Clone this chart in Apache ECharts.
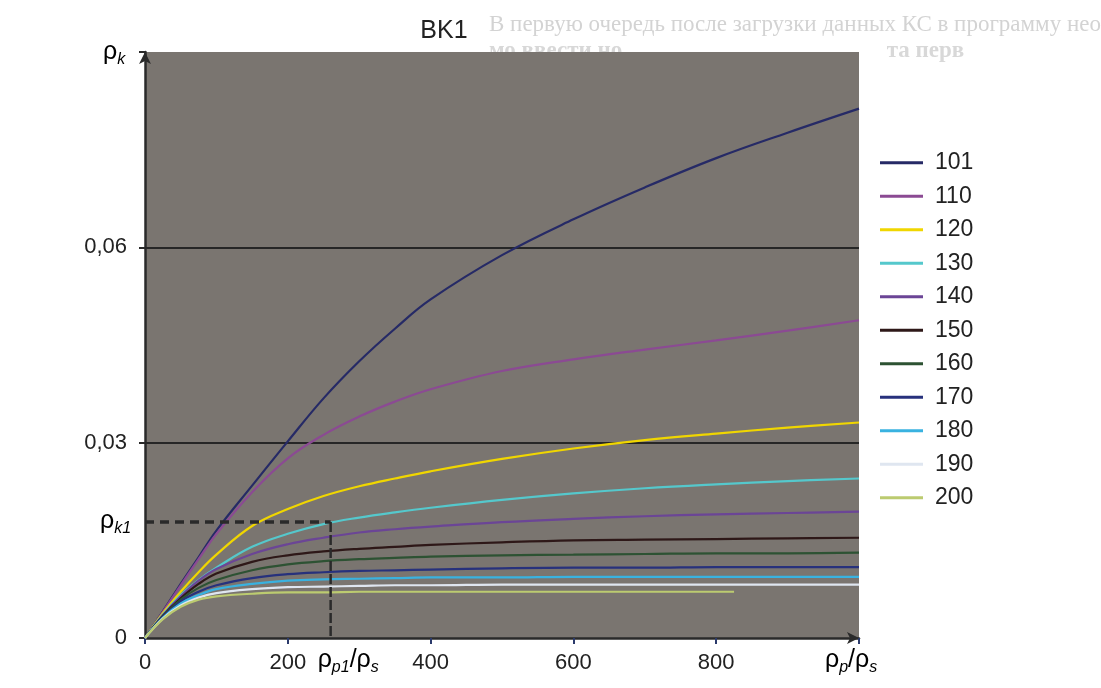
<!DOCTYPE html>
<html>
<head>
<meta charset="utf-8">
<script src="https://cdn.jsdelivr.net/npm/echarts@6/dist/echarts.min.js"></script>
<style>
  html, body { margin: 0; padding: 0; background: #fff; }
  #chart { width: 1101px; height: 688px; }
</style>
</head>
<body>
<div id="chart"></div>
<script>
// x values shared by the curves (ρp/ρs); curve 200 stops earlier
const xs = [0, 25, 50, 75, 100, 150, 200, 250, 300, 350, 400, 500, 600, 700, 800, 900, 1000];
const xs200 = [0, 25, 50, 75, 100, 150, 200, 250, 300, 350, 400, 500, 600, 700, 825];

// ρk for each curve
const s101 = [0, 0.0041, 0.0083, 0.0124, 0.0165, 0.0234, 0.0302, 0.0368, 0.0425, 0.0475, 0.0520, 0.0588, 0.0643, 0.0692, 0.0737, 0.0776, 0.0813];
const s110 = [0, 0.0040, 0.0081, 0.0121, 0.0160, 0.0224, 0.0276, 0.0312, 0.0340, 0.0363, 0.0382, 0.0410, 0.0428, 0.0443, 0.0457, 0.0472, 0.0488];
const s120 = [0, 0.0038, 0.0071, 0.0101, 0.0128, 0.0172, 0.0198, 0.0218, 0.0233, 0.0245, 0.0256, 0.0275, 0.0291, 0.0304, 0.0314, 0.0323, 0.0331];
const s130 = [0, 0.0036, 0.0066, 0.0089, 0.0108, 0.0140, 0.0160, 0.0175, 0.0185, 0.0193, 0.0200, 0.0212, 0.0222, 0.0230, 0.0236, 0.0241, 0.0245];
const s140 = [0, 0.0035, 0.0064, 0.0088, 0.0106, 0.0129, 0.0144, 0.0154, 0.0162, 0.0167, 0.0171, 0.0178, 0.0183, 0.0187, 0.0190, 0.0192, 0.0194];
const s150 = [0, 0.0034, 0.0061, 0.0083, 0.0099, 0.0117, 0.0127, 0.0133, 0.0137, 0.0140, 0.0143, 0.0147, 0.0150, 0.0151, 0.0152, 0.0153, 0.0154];
const s160 = [0, 0.0033, 0.0059, 0.0077, 0.0089, 0.0104, 0.0113, 0.0118, 0.0121, 0.0123, 0.0125, 0.0127, 0.0128, 0.0129, 0.0130, 0.0130, 0.0131];
const s170 = [0, 0.0032, 0.0056, 0.0071, 0.0081, 0.0092, 0.0098, 0.0101, 0.0103, 0.0104, 0.0105, 0.0107, 0.0108, 0.0108, 0.0109, 0.0109, 0.0109];
const s180 = [0, 0.0031, 0.0053, 0.0066, 0.0075, 0.0083, 0.0088, 0.0090, 0.0091, 0.0092, 0.0093, 0.0093, 0.0094, 0.0094, 0.0094, 0.0094, 0.0094];
const s190 = [0, 0.0030, 0.0050, 0.0062, 0.0069, 0.0075, 0.0078, 0.0079, 0.0080, 0.0081, 0.0081, 0.0082, 0.0082, 0.0082, 0.0082, 0.0082, 0.0082];
const s200 = [0, 0.0029, 0.0048, 0.0059, 0.0064, 0.0068, 0.0070, 0.0070, 0.0071, 0.0071, 0.0071, 0.0071, 0.0071, 0.0071, 0.0071];

const names = ['101', '110', '120', '130', '140', '150', '160', '170', '180', '190', '200'];
const values = [s101, s110, s120, s130, s140, s150, s160, s170, s180, s190, s200];
const xLists = [xs, xs, xs, xs, xs, xs, xs, xs, xs, xs, xs200];
const colors = ['#262a66', '#8b4a93', '#f0d600', '#55c8cc', '#6b4596', '#2e1818', '#2d5233', '#27317c', '#39b2e0', '#dfe6f0', '#bccb70'];

// axes and marks
const xMax = 1000, xStep = 200;
const yMax = 0.09, yStep = 0.03;
const gridValues = [0.03, 0.06];
const rhoP1 = 260;     // ρp1/ρs
const rhoK1 = 0.0178;  // ρk1

const font = "'Liberation Sans Narrow', 'Liberation Sans', Arial, sans-serif";
const chart = echarts.init(document.getElementById('chart'));

let series = names.map((n, i) => ({
  name: n,
  type: 'line',
  smooth: 0.4,
  symbol: 'none',
  data: xLists[i].map((x, j) => [x, values[i][j]]),
  lineStyle: { color: colors[i], width: 2.2 },
  itemStyle: { color: colors[i] },
  z: 5
}));

// grid lines at 0,03 and 0,06
series.push({
  type: 'line', data: [], silent: true,
  markLine: {
    silent: true, symbol: 'none', label: { show: false },
    lineStyle: { color: '#262626', width: 2, type: 'solid' },
    data: gridValues.map(v => ({ yAxis: v }))
  },
  z: 3
});
// dashed ρk1 / ρp1 guide lines
series.push({
  type: 'line', symbol: 'none', silent: true,
  data: [[0, rhoK1], [rhoP1, rhoK1]],
  lineStyle: { color: '#2a2a2a', width: 3.5, type: [9, 6] },
  z: 6
});
series.push({
  type: 'line', symbol: 'none', silent: true,
  data: [[rhoP1, rhoK1], [rhoP1, 0]],
  lineStyle: { color: '#2a2a2a', width: 2.5, type: [10, 3] },
  z: 6
});

const option = {
  animation: false,
  title: {
    text: 'BK1', left: 439, top: 14, textAlign: 'center',
    textStyle: { fontFamily: font, fontSize: 25, fontWeight: 'normal', color: '#222' }
  },
  grid: {
    left: 145, right: 242, top: 52, bottom: 50,
    show: true, backgroundColor: '#7a7570', borderWidth: 0
  },
  legend: {
    data: names, orient: 'vertical', left: 875, top: 145,
    itemWidth: 43, itemHeight: 3, itemGap: 8,
    icon: 'rect',
    textStyle: { fontFamily: font, fontSize: 23, color: '#222', lineHeight: 25.5, padding: [0, 0, 0, 7] }
  },
  xAxis: {
    type: 'value', min: 0, max: xMax, interval: xStep,
    axisLine: { show: true, symbol: ['none', 'arrow'], symbolSize: [9, 12], lineStyle: { color: '#2a2a2a', width: 2.5 } },
    axisTick: { show: true, length: 6, lineStyle: { color: '#2b3a6b', width: 2 } },
    splitLine: { show: false },
    axisLabel: {
      margin: 14, fontFamily: font, fontSize: 22, color: '#222',
      formatter: v => (v >= xMax ? '' : String(v))
    }
  },
  yAxis: {
    type: 'value', min: 0, max: yMax, interval: yStep,
    axisLine: { show: true, symbol: ['none', 'arrow'], symbolSize: [9, 12], lineStyle: { color: '#2a2a2a', width: 2.5 } },
    axisTick: { show: true, length: 6, lineStyle: { color: '#2a2a2a', width: 2 } },
    splitLine: { show: false },
    axisLabel: {
      margin: 18, fontFamily: font, fontSize: 22, color: '#222',
      formatter: v => (v >= yMax - 1e-9 ? '' : (v === 0 ? '0' : v.toFixed(2).replace('.', ',')))
    }
  },
  series: series
};
chart.setOption(option);

// axis names and ρk1 / ρp1 labels, placed through the axes
const rich = {
  r: { fontFamily: font, fontSize: 25, color: '#222', lineHeight: 30, verticalAlign: 'middle' },
  s: { fontFamily: font, fontSize: 16, fontStyle: 'italic', color: '#222', lineHeight: 8, verticalAlign: 'bottom' }
};
const pK1 = chart.convertToPixel({ gridIndex: 0 }, [0, rhoK1]);
const pP1 = chart.convertToPixel({ gridIndex: 0 }, [rhoP1, 0]);
const pTop = chart.convertToPixel({ gridIndex: 0 }, [0, yMax]);
const pEnd = chart.convertToPixel({ gridIndex: 0 }, [xMax, 0]);

chart.setOption({
  graphic: [
    { type: 'text', left: pTop[0] - 42, top: pTop[1] - 12, style: { text: '{r|ρ}{s|k}', rich: rich } },
    { type: 'text', left: pK1[0] - 45, top: pK1[1] - 13, style: { text: '{r|ρ}{s|k1}', rich: rich } },
    { type: 'text', left: pP1[0] - 13, top: pP1[1] + 10, style: { text: '{r|ρ}{s|p1}{r|/ρ}{s|s}', rich: rich } },
    { type: 'text', left: pEnd[0] - 34, top: pEnd[1] + 10, style: { text: '{r|ρ}{s|p}{r|/ρ}{s|s}', rich: rich } },
    // faint text showing through from the printed page
    { type: 'text', left: 489, top: 13, z: -10, style: { text: 'В первую очередь после загрузки данных КС в программу нео', font: "23px 'Liberation Serif', serif", fill: '#d3d3d3' } },
    { type: 'text', left: 489, top: 40, z: -10, style: { text: 'мо ввести но                                              та перв', font: "bold 23px 'Liberation Serif', serif", fill: '#d8d8d8' } }
  ]
});
</script>
</body>
</html>
